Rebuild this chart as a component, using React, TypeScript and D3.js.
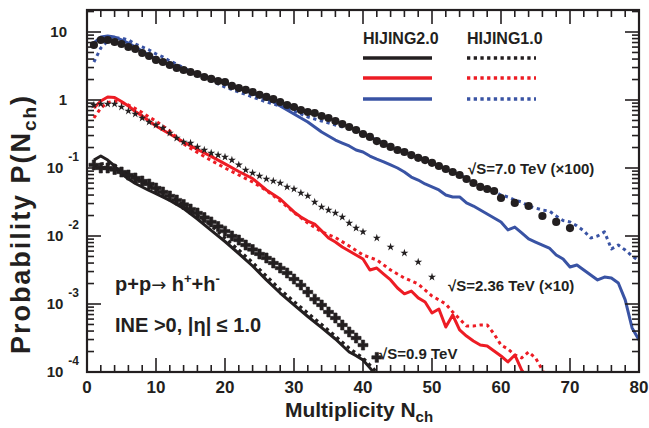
import React, { useEffect, useRef } from 'react'
import * as d3 from 'd3'

type Pt = [number, number]

// sqrt(s)=7.0 TeV (x100): data, HIJING2.0, HIJING1.0
const data7: Pt[] = [[1,6.44],[2,7.63],[3,7.63],[4,7.13],[5,6.66],[6,6.02],[7,5.63],[8,4.91],[9,4.44],[10,3.88],[11,3.62],[12,3.27],[13,2.96],[14,2.76],[15,2.58],[16,2.41],[17,2.18],[18,2.04],[19,1.9],[20,1.84],[21,1.61],[22,1.5],[23,1.41],[24,1.31],[25,1.19],[26,1.11],[27,1.03],[28,0.935],[29,0.844],[30,0.789],[31,0.713],[32,0.666],[33,0.644],[34,0.582],[35,0.544],[36,0.491],[37,0.444],[38,0.401],[39,0.362],[40,0.316],[41,0.286],[42,0.249],[43,0.226],[44,0.204],[45,0.184],[46,0.172],[47,0.155],[48,0.141],[49,0.131],[50,0.119],[51,0.107],[52,0.0967],[53,0.0873],[54,0.0789],[55,0.0689],[56,0.0602],[57,0.0526],[58,0.0491],[59,0.0459],[60,0.0362],[62,0.0306],[64,0.0276],[66,0.0197],[68,0.0161],[70,0.0131]]
const hij2_7: Pt[] = [[1,6.89],[2,8.44],[3,8.73],[4,8.44],[5,7.63],[6,6.89],[7,6.02],[8,5.26],[10,4.01],[12,3.27],[15,2.58],[20,1.78],[25,1.15],[27,0.935],[29,0.713],[30,0.623],[31,0.544],[32,0.475],[33,0.401],[34,0.338],[35,0.296],[36,0.258],[37,0.233],[38,0.211],[39,0.184],[40,0.172],[41,0.15],[42,0.135],[43,0.123],[44,0.111],[45,0.1],[46,0.0873],[47,0.0737],[48,0.0666],[49,0.0582],[50,0.0526],[51,0.0475],[52,0.0401],[53,0.0375],[54,0.0375],[55,0.0306],[56,0.0276],[57,0.0241],[58,0.0211],[59,0.0184],[60,0.0161],[61,0.0123],[62,0.0135],[63,0.0111],[64,0.00904],[65,0.00816],[66,0.00737],[67,0.00666],[68,0.00526],[69,0.00459],[70,0.0035],[71,0.00375],[72,0.00316],[73,0.00267],[74,0.00226],[75,0.00249],[76,0.00241],[77,0.00204],[78,0.00115],[79,0.000444],[80,0.000296]]
const hij1_7: Pt[] = [[1,3.62],[2,5.82],[3,7.37],[4,8.16],[5,8.16],[6,7.63],[7,6.66],[8,6.02],[9,5.44],[10,4.75],[11,4.29],[12,3.75],[13,3.38],[14,2.96],[15,2.67],[16,2.33],[17,2.11],[18,1.9],[19,1.72],[20,1.55],[22,1.31],[24,1.11],[26,0.935],[28,0.816],[30,0.689],[32,0.563],[34,0.491],[36,0.429],[38,0.375],[40,0.316],[42,0.258],[44,0.204],[46,0.172],[48,0.145],[50,0.119],[52,0.0967],[54,0.0789],[56,0.0623],[58,0.0508],[60,0.0401],[61,0.0375],[62,0.0338],[63,0.0316],[64,0.0276],[65,0.0258],[66,0.0241],[67,0.0233],[68,0.0197],[69,0.0169],[70,0.0161],[71,0.0141],[72,0.0119],[73,0.00935],[74,0.01],[75,0.0115],[76,0.00644],[77,0.00737],[78,0.00622],[79,0.00508],[80,0.00429]]

// sqrt(s)=2.36 TeV (x10)
const data236: Pt[] = [[1,0.844],[2,0.873],[3,0.873],[4,0.873],[5,0.789],[6,0.689],[7,0.623],[8,0.544],[9,0.475],[10,0.429],[11,0.388],[12,0.327],[13,0.276],[14,0.241],[15,0.233],[16,0.204],[17,0.184],[18,0.166],[19,0.155],[20,0.145],[21,0.131],[22,0.111],[23,0.0935],[24,0.0844],[25,0.0763],[26,0.0689],[27,0.0644],[28,0.0602],[29,0.0526],[30,0.0491],[31,0.0429],[32,0.0388],[33,0.0316],[34,0.0267],[35,0.0241],[36,0.0218],[37,0.019],[38,0.0155],[39,0.0131],[40,0.0115],[42,0.00935],[44,0.00689],[46,0.00563],[48,0.00415],[50,0.00249]]
const hij2_236: Pt[] = [[1,0.763],[2,0.967],[3,1.11],[4,1.09],[5,0.95],[6,0.816],[7,0.677],[8,0.582],[9,0.491],[10,0.415],[12,0.316],[14,0.241],[16,0.187],[18,0.148],[20,0.115],[22,0.0888],[24,0.07],[26,0.0475],[28,0.035],[30,0.0226],[31,0.019],[32,0.0166],[33,0.015],[34,0.0119],[35,0.00935],[36,0.00816],[37,0.00689],[38,0.00602],[39,0.00526],[40,0.00459],[41,0.00316],[42,0.00338],[43,0.00276],[44,0.00226],[45,0.00172],[46,0.00141],[47,0.00155],[48,0.00123],[49,0.00107],[50,0.000737],[51,0.000844],[52,0.000459],[53,0.000689],[54,0.000415],[55,0.000338],[56,0.000286],[57,0.000249],[58,0.000241],[59,0.000204],[60,0.000172],[61,0.000141],[62,0.000178],[63,0.000107],[64,0.0000763]]
const hij1_236: Pt[] = [[1,0.544],[2,0.763],[3,0.919],[4,0.967],[5,0.919],[6,0.844],[7,0.75],[8,0.655],[9,0.563],[10,0.491],[12,0.35],[14,0.226],[16,0.169],[18,0.129],[20,0.1],[22,0.0789],[24,0.0623],[26,0.0467],[28,0.0327],[30,0.0222],[32,0.0155],[34,0.0115],[36,0.0095],[38,0.00713],[40,0.00526],[42,0.00444],[44,0.00316],[46,0.00241],[48,0.00197],[50,0.00131],[51,0.00115],[52,0.001],[53,0.000763],[54,0.000602],[55,0.000475],[56,0.000475],[57,0.000491],[58,0.000491],[59,0.000362],[60,0.000249],[61,0.000218],[62,0.000178],[63,0.000161],[64,0.000197],[65,0.000161],[66,0.000107],[67,0.0000644]]

// sqrt(s)=0.9 TeV
const data09: Pt[] = [[1,0.111],[2,0.1],[3,0.1],[4,0.095],[5,0.0873],[6,0.0789],[7,0.0713],[8,0.0644],[9,0.0582],[10,0.0508],[11,0.0444],[12,0.0388],[13,0.0338],[14,0.0291],[15,0.0249],[16,0.0218],[17,0.0187],[18,0.0161],[19,0.0138],[20,0.0118],[21,0.01],[22,0.00873],[23,0.00737],[24,0.00633],[25,0.00544],[26,0.00475],[27,0.00401],[28,0.00338],[29,0.00286],[30,0.00233],[31,0.0019],[32,0.0015],[33,0.00118],[34,0.000967],[35,0.000763],[36,0.000623],[37,0.000491],[38,0.000388],[39,0.000316],[40,0.000249],[42,0.000164]]
const hij2_09: Pt[] = [[1,0.131],[2,0.15],[3,0.131],[4,0.107],[5,0.083],[6,0.0689],[7,0.0592],[8,0.0526],[9,0.0467],[10,0.0421],[12,0.0333],[14,0.0254],[16,0.0178],[18,0.0121],[20,0.0083],[22,0.00553],[24,0.00362],[26,0.00226],[28,0.00145],[30,0.000967],[32,0.000655],[34,0.00045],[36,0.000306],[38,0.000197],[39,0.000174],[40,0.00015],[41,0.000115],[42,0.0000873]]
const hij1_09: Pt[] = [[1,0.107],[2,0.115],[3,0.119],[4,0.111],[5,0.0935],[6,0.0816],[7,0.0713],[8,0.0623],[9,0.0553],[10,0.0491],[12,0.0388],[14,0.0286],[16,0.0204],[18,0.0141],[20,0.00935],[22,0.00623],[24,0.00408],[26,0.00258],[28,0.00164],[30,0.00109],[32,0.000737],[34,0.0005],[36,0.000338],[38,0.000224],[40,0.000161],[41,0.000127],[42,0.0001]]

const xTicks = [0, 10, 20, 30, 40, 50, 60, 70, 80]
const decades = [-4, -3, -2, -1, 0, 1]

const BLACK = '#231f20'
const RED = '#ed1c24'
const BLUE = '#3953a4'
const FONT = '"Liberation Sans", Arial, Helvetica, sans-serif'

export default function App() {
  const ref = useRef<SVGSVGElement>(null)

  useEffect(() => {
    const svg = d3.select(ref.current)
    svg.selectAll('*').remove()

    const left = 87, right = 639, top = 10, bottom = 372
    const x = d3.scaleLinear().domain([0, 80]).range([left, right])
    const y = d3.scaleLog().domain([1e-4, 10]).range([bottom, 32])
    const yTop = y.invert(top)

    svg.append('defs').append('clipPath').attr('id', 'plot')
      .append('rect').attr('x', left).attr('y', top).attr('width', right - left).attr('height', bottom - top)

    const g = svg.append('g').attr('clip-path', 'url(#plot)')
    const line = d3.line<Pt>().x(d => x(d[0])).y(d => y(d[1]))

    const curves: [Pt[], string, boolean][] = [
      [hij2_7, BLUE, false], [hij1_7, BLUE, true],
      [hij2_236, RED, false], [hij1_236, RED, true],
      [hij2_09, BLACK, false], [hij1_09, BLACK, true],
    ]
    curves.forEach(([pts, col, dotted]) => {
      g.append('path').datum(pts).attr('d', line).attr('fill', 'none')
        .attr('stroke', col).attr('stroke-width', 3)
        .attr('stroke-dasharray', dotted ? '3.3 3.6' : null)
        .attr('stroke-linejoin', 'round')
    })

    // data markers
    g.selectAll('circle.d7').data(data7).join('circle')
      .attr('cx', d => x(d[0])).attr('cy', d => y(d[1])).attr('r', 4.1).attr('fill', BLACK)
    const star = d3.symbol().type(d3.symbolStar).size(20)
    g.selectAll('path.d236').data(data236).join('path').attr('class', 'd236')
      .attr('transform', d => `translate(${x(d[0])},${y(d[1])})`).attr('d', star).attr('fill', BLACK)
    const cross = d3.symbol().type(d3.symbolCross).size(55)
    g.selectAll('path.d09').data(data09).join('path').attr('class', 'd09')
      .attr('transform', d => `translate(${x(d[0])},${y(d[1])})`).attr('d', cross).attr('fill', BLACK)
      .attr('stroke', BLACK).attr('stroke-width', 0.6).attr('stroke-linejoin', 'round')

    // frame and ticks
    const axes = svg.append('g').attr('stroke', BLACK).attr('stroke-width', 1.6)
    axes.append('rect').attr('x', left).attr('y', top).attr('width', right - left).attr('height', bottom - top)
      .attr('fill', 'none').attr('stroke-width', 2.2)
    d3.range(0, 81, 2).forEach(v => {
      const len = v % 10 === 0 ? 14 : 7
      axes.append('line').attr('x1', x(v)).attr('x2', x(v)).attr('y1', bottom).attr('y2', bottom - len)
      axes.append('line').attr('x1', x(v)).attr('x2', x(v)).attr('y1', top).attr('y2', top + len)
    })
    decades.forEach(k => {
      for (let m = 1; m <= 9; m++) {
        const v = m * Math.pow(10, k)
        if (v > yTop) continue
        const len = m === 1 ? 14 : 7
        axes.append('line').attr('x1', left).attr('x2', left + len).attr('y1', y(v)).attr('y2', y(v))
        axes.append('line').attr('x1', right).attr('x2', right - len).attr('y1', y(v)).attr('y2', y(v))
      }
    })

    const txt = svg.append('g').attr('font-family', FONT).attr('font-weight', 'bold').attr('fill', BLACK)

    xTicks.forEach(v => {
      txt.append('text').attr('x', x(v)).attr('y', bottom + 21).attr('text-anchor', 'middle')
        .attr('font-size', 17).text(String(v))
    })
    decades.forEach(k => {
      const yy = y(Math.pow(10, k)) + 5
      if (k === 1 || k === 0) {
        txt.append('text').attr('x', 67).attr('y', yy).attr('text-anchor', 'end').attr('font-size', 15)
          .text(k === 1 ? '10' : '1')
      } else {
        const t = txt.append('text').attr('x', 79).attr('y', yy).attr('text-anchor', 'end').attr('font-size', 15)
        t.append('tspan').text('10')
        t.append('tspan').attr('dx', 5).attr('dy', -12).attr('font-size', 12).text(String(k))
      }
    })

    // axis titles
    const xt = txt.append('text').attr('x', 359).attr('y', 417).attr('text-anchor', 'middle').attr('font-size', 21)
    xt.append('tspan').text('Multiplicity N')
    xt.append('tspan').attr('dy', 5).attr('font-size', 15).text('ch')
    const yt = txt.append('text').attr('transform', 'translate(30,225) rotate(-90)').attr('text-anchor', 'middle')
      .attr('font-size', 27).attr('textLength', 258).attr('lengthAdjust', 'spacing')
    yt.append('tspan').text('Probability P(N')
    yt.append('tspan').attr('dy', 6).attr('font-size', 19).text('ch')
    yt.append('tspan').attr('dy', -6).text(')')

    // legend
    txt.append('text').attr('x', 363).attr('y', 44).attr('font-size', 16).text('HIJING2.0')
    txt.append('text').attr('x', 467).attr('y', 44).attr('font-size', 16).text('HIJING1.0')
    ;[[BLACK, 58], [RED, 78], [BLUE, 99]].forEach(([col, yy]) => {
      svg.append('line').attr('x1', 363).attr('x2', 432).attr('y1', yy).attr('y2', yy)
        .attr('stroke', col as string).attr('stroke-width', 3.3)
      svg.append('line').attr('x1', 467).attr('x2', 536).attr('y1', yy).attr('y2', yy)
        .attr('stroke', col as string).attr('stroke-width', 3.3).attr('stroke-dasharray', '3.3 3.4')
    })

    // annotations
    txt.append('text').attr('x', 468).attr('y', 174).attr('font-size', 15).text('\u221AS=7.0 TeV (\u00D7100)')
    txt.append('text').attr('x', 448).attr('y', 291).attr('font-size', 15).text('\u221AS=2.36 TeV (\u00D710)')
    txt.append('text').attr('x', 379).attr('y', 359).attr('font-size', 15).text('\u221AS=0.9 TeV')

    const r1 = txt.append('text').attr('x', 115).attr('y', 291).attr('font-size', 20)
    r1.append('tspan').text('p+p')
    r1.append('tspan').attr('font-family', '"DejaVu Sans"').attr('font-weight', 'normal').attr('font-size', 18).text('\u2192')
    r1.append('tspan').text(' h')
    r1.append('tspan').attr('dy', -8).attr('font-size', 13).text('+')
    r1.append('tspan').attr('dy', 8).text('+h')
    r1.append('tspan').attr('dy', -8).attr('font-size', 13).text('-')
    txt.append('text').attr('x', 115).attr('y', 332).attr('font-size', 20)
      .text('INE >0, |\u03B7| \u2264 1.0')
  }, [])

  return <svg ref={ref} width={649} height={428} style={{ position: 'absolute', left: 0, top: 0, background: '#fff' }} />
}
